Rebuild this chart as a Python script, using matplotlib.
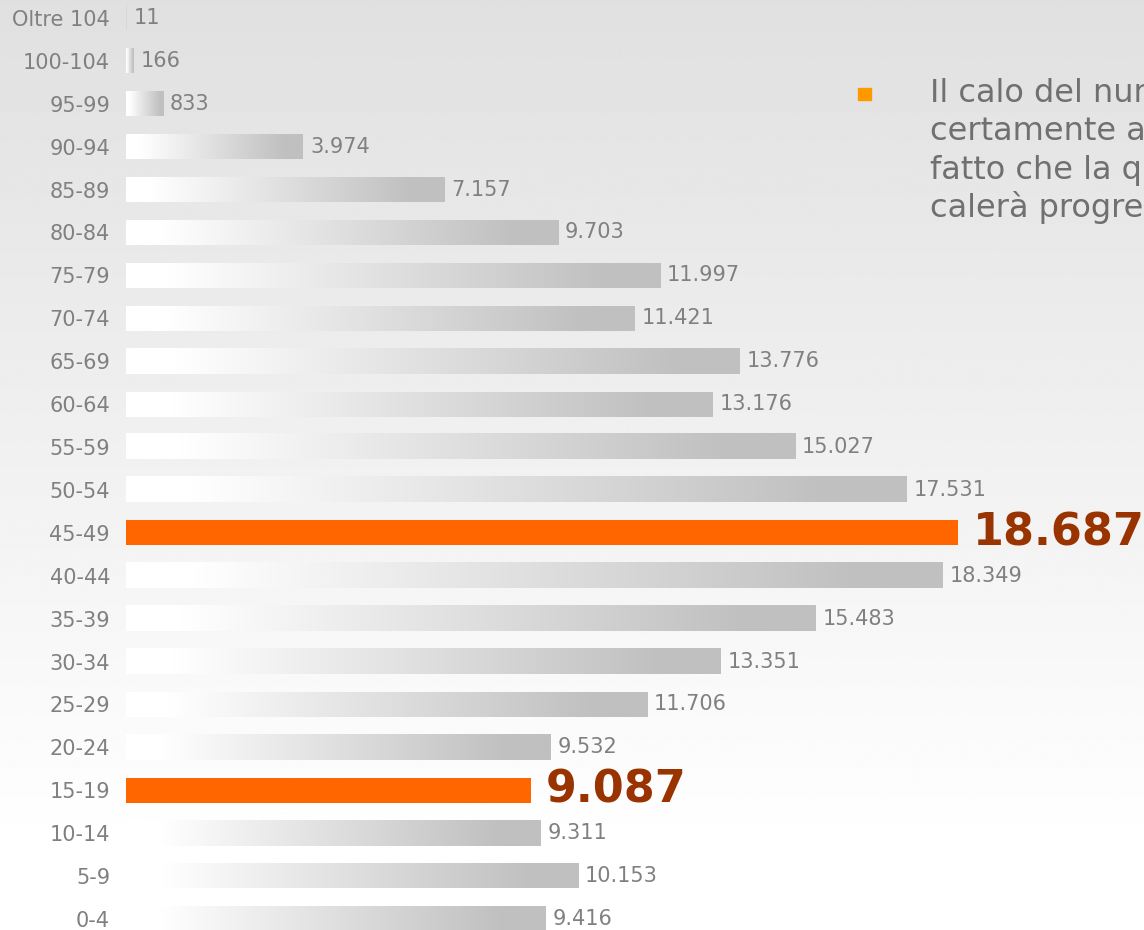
import numpy as np
import matplotlib
matplotlib.use("Agg")
import matplotlib.pyplot as plt
from matplotlib.colors import LinearSegmentedColormap
from matplotlib.patches import Rectangle

# age classes, top to bottom
classes = ["Oltre 104", "100-104", "95-99", "90-94", "85-89", "80-84", "75-79",
           "70-74", "65-69", "60-64", "55-59", "50-54", "45-49", "40-44",
           "35-39", "30-34", "25-29", "20-24", "15-19", "10-14", "5-9", "0-4"]
values = [11, 166, 833, 3974, 7157, 9703, 11997, 11421, 13776, 13176, 15027,
          17531, 18687, 18349, 15483, 13351, 11706, 9532, 9087, 9311, 10153, 9416]
highlight = ["45-49", "15-19"]

note_lines = ["Il calo del num", "certamente a", "fatto che la q", "calerà progres"]

W, H = 1144, 930
fig = plt.figure(figsize=(W / 100, H / 100), dpi=100)

# background: light gray at top fading to white
bg = fig.add_axes([0, 0, 1, 1], zorder=0)
yy = np.linspace(0, 1, 400)
shade = np.clip(224 + 31 * yy / 0.915, 0, 255) / 255.0
bg.imshow(np.repeat(shade[:, None], 2, axis=1), cmap="gray", vmin=0, vmax=1,
          aspect="auto", extent=(0, 1, 1, 0), interpolation="bilinear")
bg.set_xlim(0, 1)
bg.set_ylim(1, 0)
bg.axis("off")

x0 = 126
px_per_unit = 832 / 18687.0
row = 42.9
top = 18

ax = fig.add_axes([x0 / W, 0, 1 - x0 / W, 1], zorder=1)
ax.patch.set_alpha(0)

bar_cmap = LinearSegmentedColormap.from_list(
    "bar", [(0, "#ffffff"), (0.08, "#ffffff"), (0.9, "#c0c0c0"), (1, "#c0c0c0")])
grad = np.linspace(0, 1, 256)[None, :]
h = 25 / row

for i, (c, v) in enumerate(zip(classes, values)):
    if c in highlight:
        ax.barh(i, v, height=h, color="#ff6600", zorder=3)
        ax.annotate(f"{v:,}".replace(",", "."), (v, i), xytext=(11, 0),
                    textcoords="offset points", va="center", ha="left",
                    fontsize=32, fontweight="bold", color="#993300")
    else:
        ax.imshow(grad, cmap=bar_cmap, vmin=0, vmax=1, aspect="auto",
                  extent=(0, v, i + h / 2, i - h / 2), interpolation="bilinear",
                  zorder=3)
        ax.annotate(f"{v:,}".replace(",", "."), (v, i), xytext=(5, 0),
                    textcoords="offset points", va="center", ha="left",
                    fontsize=15, color="#808080")

ax.set_xlim(0, (W - x0) / px_per_unit)
ax.set_ylim((H - top) / row, -top / row)
ax.set_yticks(range(len(classes)))
ax.set_yticklabels(classes, fontsize=15, color="#808080")
ax.tick_params(axis="y", length=0, pad=11.5)
ax.set_xticks([])
for s in ax.spines.values():
    s.set_visible(False)

# bullet note on the right
fig.add_artist(Rectangle((858 / W, 1 - 100 / H), 13 / W, 12 / H,
                         transform=fig.transFigure, color="#ff9900", zorder=5))
for k, line in enumerate(note_lines):
    fig.text(930 / W, 1 - (102 + 38.3 * k) / H, line, fontsize=23,
             color="#707070", va="baseline", ha="left", zorder=5)

fig.savefig("out.png", dpi=100)
